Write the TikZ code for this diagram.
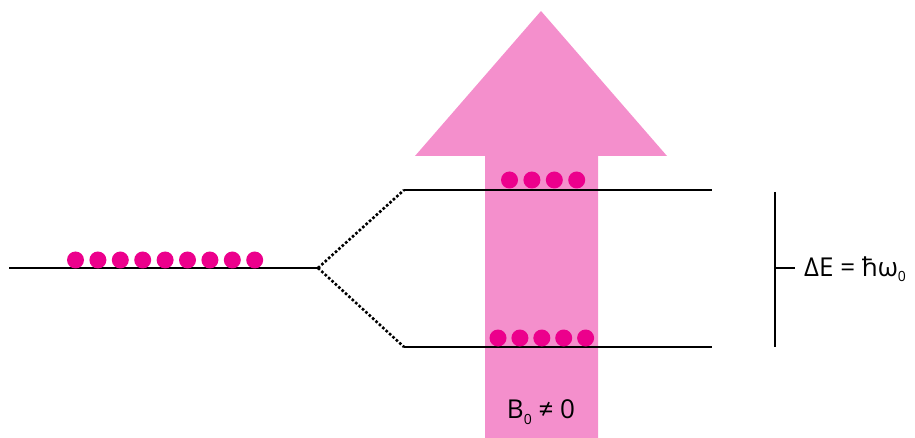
\documentclass[tikz,border=0pt]{standalone}
\usepackage{fontspec}
\setmainfont{Open Sans}
\definecolor{arrowpink}{RGB}{244,143,204}
\definecolor{dotmag}{RGB}{236,0,140}
\begin{document}
\begin{tikzpicture}[x=1pt,y=-1pt,
  level/.style={line width=2.8pt,black},
  spin/.style={circle,fill=dotmag,inner sep=0pt,minimum size=17pt},
  split/.style={line width=2.6pt,dotted,black},
  lbl/.style={font=\fontsize{26}{28}\selectfont,inner sep=0pt}]
\useasboundingbox (0,0) rectangle (915,438);
% field arrow
\fill[arrowpink] (541,11) -- (667,156) -- (598,156) -- (598,438) -- (485,438) -- (485,156) -- (415,156) -- cycle;
% levels
\coordinate (l0a) at (9,268);
\coordinate (l0b) at (318,268);
\coordinate (upa) at (404,190);
\coordinate (upb) at (712,190);
\coordinate (loa) at (404,347);
\coordinate (lob) at (712,347);
\draw[level] (l0a) -- (l0b);
\draw[level] (upa) -- (upb);
\draw[level] (loa) -- (lob);
\draw[split] (l0b) -- (upa);
\draw[split] (l0b) -- (loa);
% spins
\foreach \i in {0,...,8} \node[spin] (s\i) at ({75.5+22.4*\i},260) {};
\foreach \i in {0,...,3} \node[spin] (u\i) at ({509.5+22.4*\i},180) {};
\foreach \i in {0,...,4} \node[spin] (d\i) at ({498+21.9*\i},338) {};
% bracket
\coordinate (bt) at (775,192);
\coordinate (bb) at (775,347);
\coordinate (bm) at (775,268);
\coordinate (bk) at (795,268);
\draw[line width=2.8pt] (bt) -- (bb);
\draw[line width=2.8pt] (bm) -- (bk);
\node[lbl,anchor=west] (de) at (804,269) {ΔE = ħω\raisebox{-0.4ex}{\fontsize{14}{15}\selectfont 0}};
\node[lbl,anchor=center] (b0) at (541,412) {B\raisebox{-0.4ex}{\fontsize{14}{15}\selectfont 0} ≠ 0};
\end{tikzpicture}
\end{document}
